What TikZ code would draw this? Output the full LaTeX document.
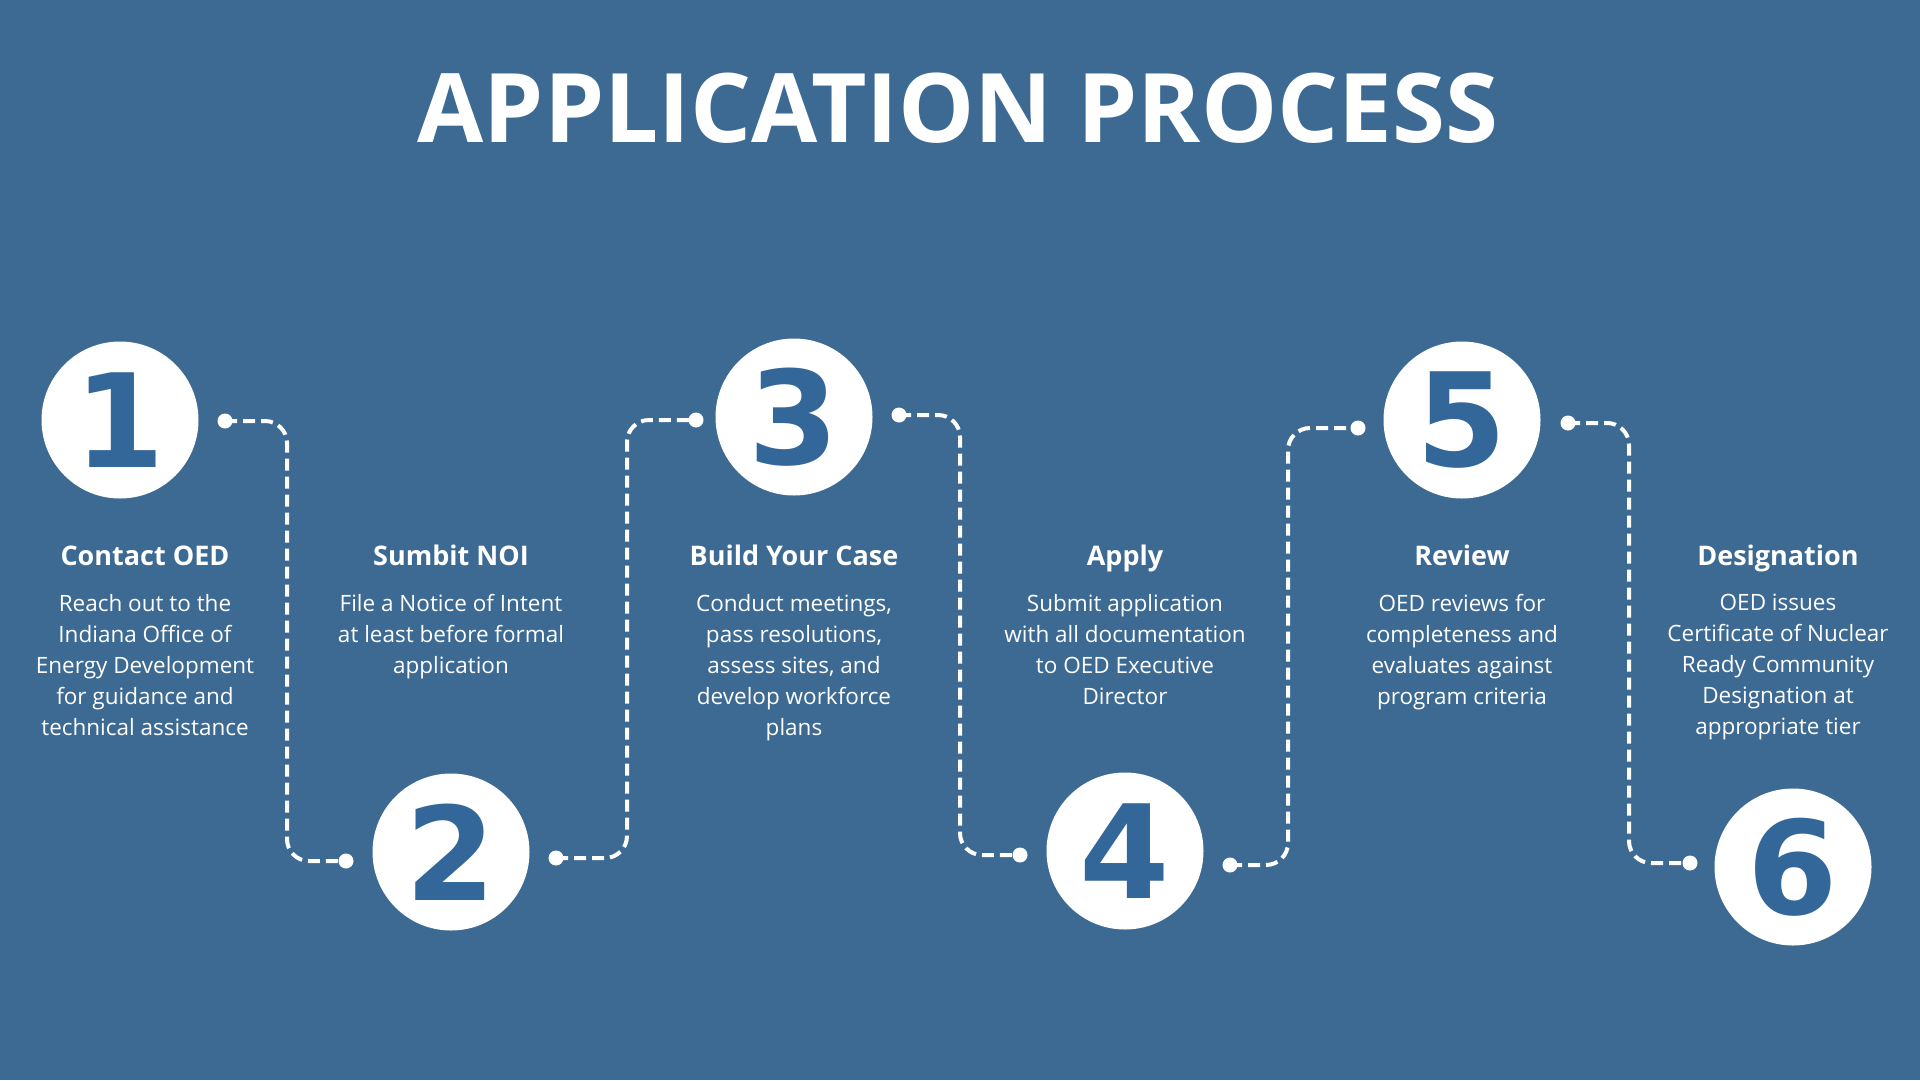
\documentclass[tikz,border=0pt]{standalone}
\usepackage{fontspec}
\setmainfont{Open Sans}
\newfontfamily\numfont{DejaVu Sans}
\usetikzlibrary{positioning, calc}

\definecolor{bgblue}{HTML}{3D6A93}
\definecolor{numblue}{HTML}{336699}

\begin{document}
\begin{tikzpicture}[x=1pt, y=-1pt,
    stepnum/.style={circle, fill=white, minimum size=157pt, inner sep=0pt, text=numblue, font=\numfont\bfseries\fontsize{130}{130}\selectfont},
    dot/.style={circle, fill=white, minimum size=15pt, inner sep=0pt},
    link/.style={white, line width=4pt, dash pattern=on 12pt off 6pt, rounded corners=22pt},
    head/.style={text=white, font=\bfseries\fontsize{27}{32}\selectfont, anchor=base},
    body/.style={text=white, align=center, font=\fontsize{22.5}{31}\selectfont, anchor=north, inner sep=0pt}
]
    % Background
    \fill[bgblue] (0,0) rectangle (1920,1080);
    \useasboundingbox (0,0) rectangle (1920,1080);

    % Title
    \node[text=white, font=\bfseries\fontsize{96}{96}\selectfont, anchor=base] (title) at (958,142) {APPLICATION PROCESS};

    % Step circles
    \node[stepnum] (s1) at (120,420) {1};
    \node[stepnum] (s2) at (451,852) {2};
    \node[stepnum] (s3) at (794,417) {3};
    \node[stepnum] (s4) at (1125,851) {4};
    \node[stepnum] (s5) at (1462,420) {5};
    \node[stepnum] (s6) at (1793,867) {6};

    % Dots beside the circles
    \node[dot] (o1r) at (225,421) {};
    \node[dot] (o2l) at (346,861) {};
    \node[dot] (o2r) at (556,858) {};
    \node[dot] (o3l) at (696,420) {};
    \node[dot] (o3r) at (899,415) {};
    \node[dot] (o4l) at (1020,855) {};
    \node[dot] (o4r) at (1230,865) {};
    \node[dot] (o5l) at (1358,428) {};
    \node[dot] (o5r) at (1568,423) {};
    \node[dot] (o6l) at (1690,863) {};

    % Dashed connectors
    \foreach \a/\b/\m in {o1r/o2l/287, o2r/o3l/627, o3r/o4l/960, o4r/o5l/1288, o5r/o6l/1629}
        \draw[link] (\a.center) -| (\m,0 |- \b.center) -- (\b.center);

    % Headings
    \node[head] (h1) at (145,565) {Contact OED};
    \node[head] (h2) at (451,565) {Sumbit NOI};
    \node[head] (h3) at (794,565) {Build Your Case};
    \node[head] (h4) at (1125,565) {Apply};
    \node[head] (h5) at (1462,565) {Review};
    \node[head] (h6) at (1778,565) {Designation};

    % Descriptions
    \node[body] (t1) at (145,594) {Reach out to the\\Indiana Office of\\Energy Development\\for guidance and\\technical assistance};
    \node[body] (t2) at (451,594) {File a Notice of Intent\\at least before formal\\application};
    \node[body] (t3) at (794,594) {Conduct meetings,\\pass resolutions,\\assess sites, and\\develop workforce\\plans};
    \node[body] (t4) at (1125,594) {Submit application\\with all documentation\\to OED Executive\\Director};
    \node[body] (t5) at (1462,594) {OED reviews for\\completeness and\\evaluates against\\program criteria};
    \node[body] (t6) at (1778,594) {OED issues\\Certificate of Nuclear\\Ready Community\\Designation at\\appropriate tier};
\end{tikzpicture}
\end{document}
